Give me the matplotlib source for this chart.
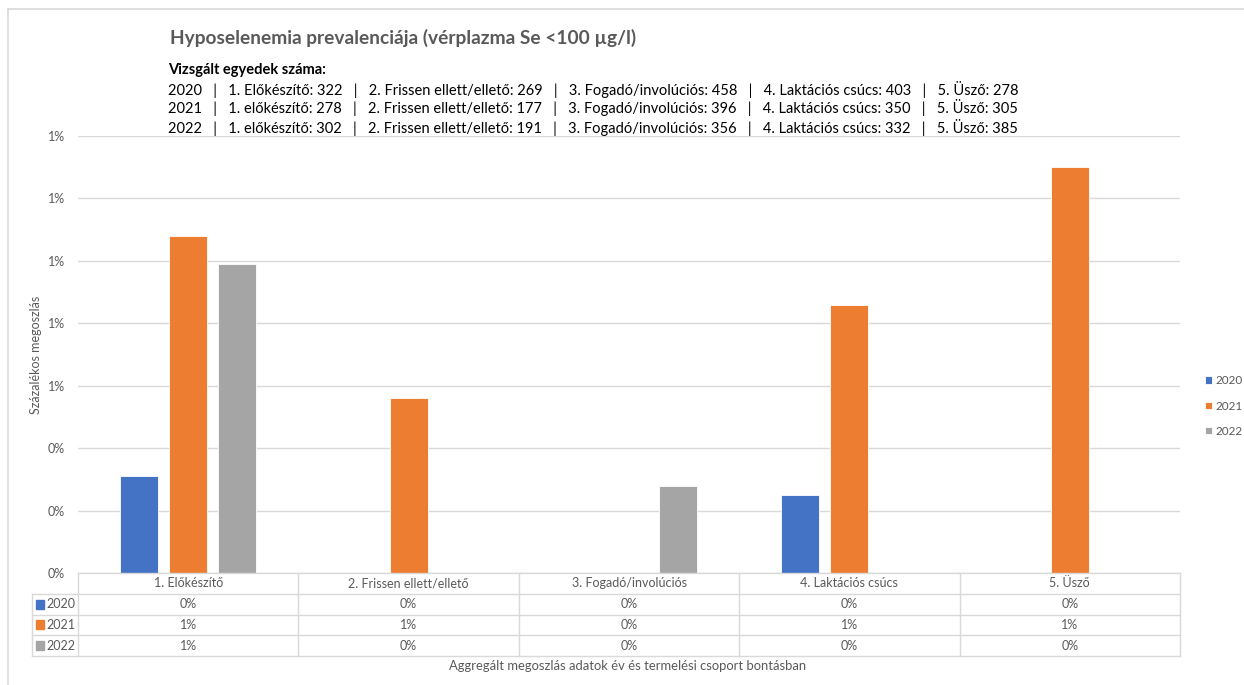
import numpy as np
import matplotlib
matplotlib.use('Agg')
import matplotlib.pyplot as plt
from matplotlib.lines import Line2D
from matplotlib.patches import Rectangle
from matplotlib.ticker import PercentFormatter, MultipleLocator

plt.rcParams['font.family'] = ['Lato', 'DejaVu Sans']

# ── Data ──
years = ['2020', '2021', '2022']
groups = ['1. Előkészítő', '2. Frissen ellett/ellető', '3. Fogadó/involúciós',
          '4. Laktációs csúcs', '5. Üsző']
prev_2020 = [0.0031, 0.0, 0.0, 0.0025, 0.0]
prev_2021 = [0.0108, 0.0056, 0.0, 0.0086, 0.0130]
prev_2022 = [0.0099, 0.0, 0.0028, 0.0, 0.0]
colors = ['#4472C4', '#ED7D31', '#A5A5A5']

# sample sizes per year (shown in the header)
count_labels = ['1. Előkészítő', '2. Frissen ellett/ellető', '3. Fogadó/involúciós',
                '4. Laktációs csúcs', '5. Üsző']
count_labels_lc = ['1. előkészítő'] + count_labels[1:]
n_2020 = [322, 269, 458, 403, 278]
n_2021 = [278, 177, 396, 350, 305]
n_2022 = [302, 191, 356, 332, 385]

series = [prev_2020, prev_2021, prev_2022]

W, H = 1244, 685
GRID = '#D9D9D9'
TXT = '#595959'


def fx(px):
    return px / W


def fy(py):
    return 1 - py / H


fig = plt.figure(figsize=(W / 100, H / 100), dpi=100, facecolor='white')

# outer chart border
fig.add_artist(Line2D([fx(8), fx(8)], [fy(9), 0], color=GRID, lw=1.2))
fig.add_artist(Line2D([fx(8), 1], [fy(9), fy(9)], color=GRID, lw=1.2))

# ── Title block ──
fig.text(fx(170), fy(38), 'Hyposelenemia prevalenciája (vérplazma Se <100 µg/l)',
         fontsize=13.8, fontweight='bold', color=TXT, va='center', ha='left')
fig.text(fx(168), fy(70), 'Vizsgált egyedek száma:', fontsize=10.5, fontweight='bold',
         color='black', va='center', ha='left')
for i, (yr, ns, labs) in enumerate(zip(years, [n_2020, n_2021, n_2022],
                                        [count_labels, count_labels_lc, count_labels_lc])):
    parts = [yr] + [f'{l}: {n}' for l, n in zip(labs, ns)]
    fig.text(fx(168), fy(89 + 19 * i), '   |   '.join(parts), fontsize=10.5,
             color='black', va='center', ha='left')

# ── Bars ──
ax = fig.add_axes([fx(78), fy(573), fx(1180) - fx(78), fy(136) - fy(573)])
x = np.arange(len(groups))
bw = 0.173
step = 0.223
for k, (vals, c, yr) in enumerate(zip(series, colors, years)):
    ax.bar(x + (k - 1) * step, vals, width=bw, color=c, edgecolor='white',
           linewidth=0.6, label=yr, zorder=3)

ax.set_xlim(-0.5, len(groups) - 0.5)
ax.set_ylim(0, 0.014)
ax.yaxis.set_major_locator(MultipleLocator(0.002))
ax.yaxis.set_major_formatter(PercentFormatter(xmax=1, decimals=0))
ax.grid(axis='y', color=GRID, linewidth=1.0, zorder=0)
ax.set_xticks([])
for s in ax.spines.values():
    s.set_visible(False)
ax.tick_params(axis='y', length=0, labelsize=9, labelcolor=TXT, pad=9.5)
ax.set_ylabel('Százalékos megoszlás', fontsize=9, color=TXT, labelpad=4)

ax.legend(loc='center left', bbox_to_anchor=(fx(1200), fy(406)),
          bbox_transform=fig.transFigure, frameon=False, fontsize=8.5,
          labelcolor=TXT, handlelength=0.6, handleheight=0.6, handletextpad=0.3,
          labelspacing=1.2, borderaxespad=0)

# ── Data table under the plot ──
tax = fig.add_axes([fx(32), fy(656), fx(1180) - fx(32), fy(573) - fy(656)])
unit = (1180 - 78) / len(groups)
left = -0.5 - 46 / unit
tax.set_xlim(left, len(groups) - 0.5)
tax.set_ylim(4, 0)
tax.axis('off')

lk = dict(color=GRID, lw=1.0, clip_on=False)
tax.plot([-0.5, len(groups) - 0.5], [0, 0], **lk)
for r in range(1, 5):
    tax.plot([left, len(groups) - 0.5], [r, r], **lk)
for b in np.arange(-0.5, len(groups), 1.0):
    tax.plot([b, b], [0, 4], **lk)
tax.plot([left, left], [1, 4], **lk)

for j, g in enumerate(groups):
    tax.text(j, 0.5, g, ha='center', va='center', fontsize=9, color=TXT)
    for k, vals in enumerate(series):
        tax.text(j, 1.5 + k, f'{vals[j]:.0%}', ha='center', va='center',
                 fontsize=9, color=TXT)

sq = 8 / unit
for k, (yr, c) in enumerate(zip(years, colors)):
    tax.add_patch(Rectangle((left + 4 / unit, 1.5 + k - 0.22), sq, 0.44,
                            color=c, clip_on=False))
    tax.text(left + 14 / unit, 1.5 + k, yr, ha='left', va='center',
             fontsize=9, color=TXT)

fig.text(fx(628), fy(666), 'Aggregált megoszlás adatok év és termelési csoport bontásban',
         ha='center', va='center', fontsize=9.4, color=TXT)

fig.savefig('out.png', dpi=100, facecolor='white')
